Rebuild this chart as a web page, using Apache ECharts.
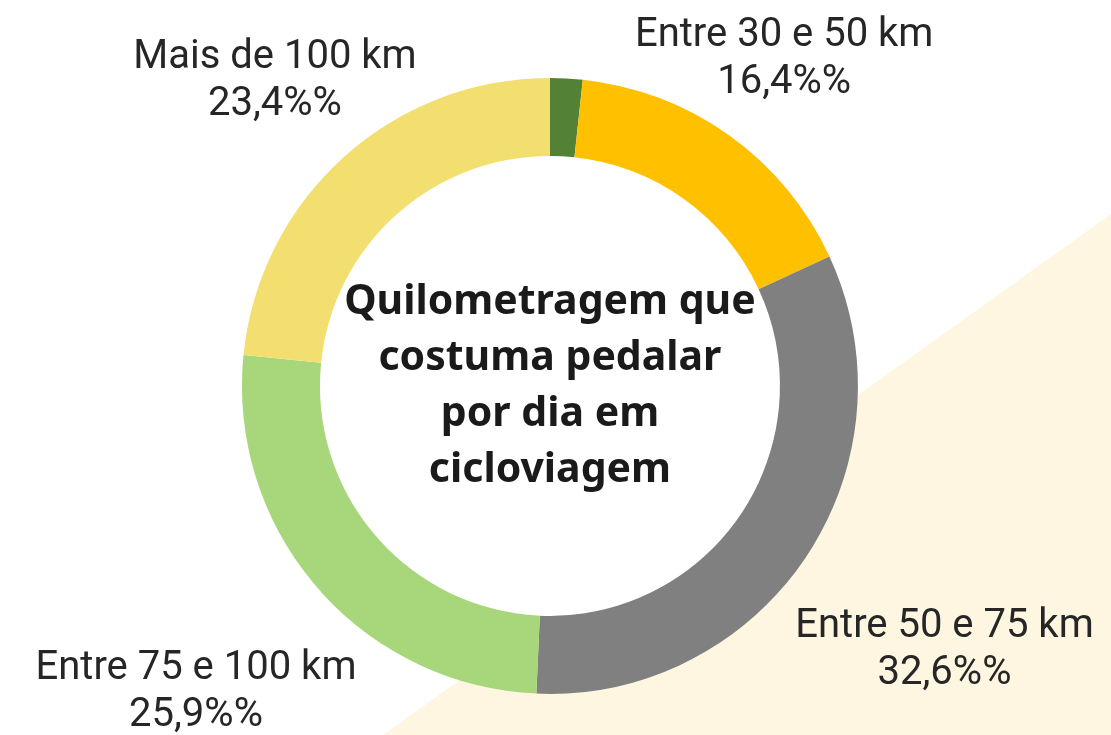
<!DOCTYPE html>
<html>
<head>
<meta charset="utf-8">
<script src="https://cdn.jsdelivr.net/npm/echarts@6/dist/echarts.min.js"></script>
<style>
  html, body { margin: 0; padding: 0; background: #ffffff; }
  #chart { width: 1111px; height: 735px; }
</style>
</head>
<body>
<div id="chart"></div>
<script>
// dados do gráfico
const categorias = ['Menos de 30 km', 'Entre 30 e 50 km', 'Entre 50 e 75 km', 'Entre 75 e 100 km', 'Mais de 100 km'];
const percentuais = [1.7, 16.4, 32.6, 25.9, 23.4];
const cores = ['#548235', '#FFC000', '#808080', '#A8D67A', '#F3DF70'];
const rotuloVisivel = [false, true, true, true, true];

// distância do centro do rótulo até o centro da rosca (px)
const distRotulo = [0, 402, 475, 468, 410];

const titulo = 'Quilometragem que\ncostuma pedalar\npor dia em\ncicloviagem';

const raioInterno = 230;
const raioExterno = 308;

const chart = echarts.init(document.getElementById('chart'));

const option = {
  backgroundColor: '#ffffff',
  animation: false,
  title: {
    text: titulo,
    left: '49.5%',
    top: '52.5%',
    textAlign: 'center',
    textVerticalAlign: 'middle',
    padding: 0,
    z: 10,
    textStyle: {
      fontFamily: 'Noto Sans',
      fontWeight: 'bold',
      fontSize: 41,
      lineHeight: 56,
      color: '#1a1a1a'
    }
  },
  graphic: [
    {
      type: 'polygon',
      z: -10,
      silent: true,
      shape: { points: [[1111, 214], [1111, 735], [383, 735]] },
      style: { fill: '#FEF6E0' }
    }
  ],
  series: [
    {
      // miolo branco da rosca
      type: 'pie',
      center: ['49.5%', '52.5%'],
      radius: [0, raioInterno + 1],
      silent: true,
      label: { show: false },
      labelLine: { show: false },
      data: [{ value: 1, itemStyle: { color: '#ffffff' } }],
      z: 1
    },
    {
      type: 'pie',
      center: ['49.5%', '52.5%'],
      radius: [raioInterno, raioExterno],
      startAngle: 90,
      clockwise: true,
      avoidLabelOverlap: false,
      z: 2,
      data: categorias.map((nome, i) => ({
        name: nome,
        value: percentuais[i],
        itemStyle: { color: cores[i] },
        label: { show: rotuloVisivel[i] }
      })),
      label: {
        position: 'outside',
        fontFamily: 'Roboto',
        fontSize: 40,
        lineHeight: 47,
        color: '#262626',
        formatter: function (p) {
          return p.name + '\n' + String(p.value).replace('.', ',') + '%%';
        }
      },
      labelLine: {
        show: true,
        length: 10,
        length2: 0,
        lineStyle: { width: 0, opacity: 0 }
      },
      labelLayout: function (params) {
        const d = distRotulo[params.dataIndex];
        const pts = params.labelLinePoints;
        if (!d || !pts || pts.length < 2) return {};
        const x0 = pts[0][0], y0 = pts[0][1];
        const vx = pts[1][0] - x0, vy = pts[1][1] - y0;
        const len = Math.sqrt(vx * vx + vy * vy) || 1;
        const extra = d - raioExterno;
        return {
          x: x0 + vx / len * extra,
          y: y0 + vy / len * extra,
          align: 'center',
          verticalAlign: 'middle'
        };
      },
      emphasis: { disabled: true }
    }
  ]
};

chart.setOption(option);
</script>
</body>
</html>
